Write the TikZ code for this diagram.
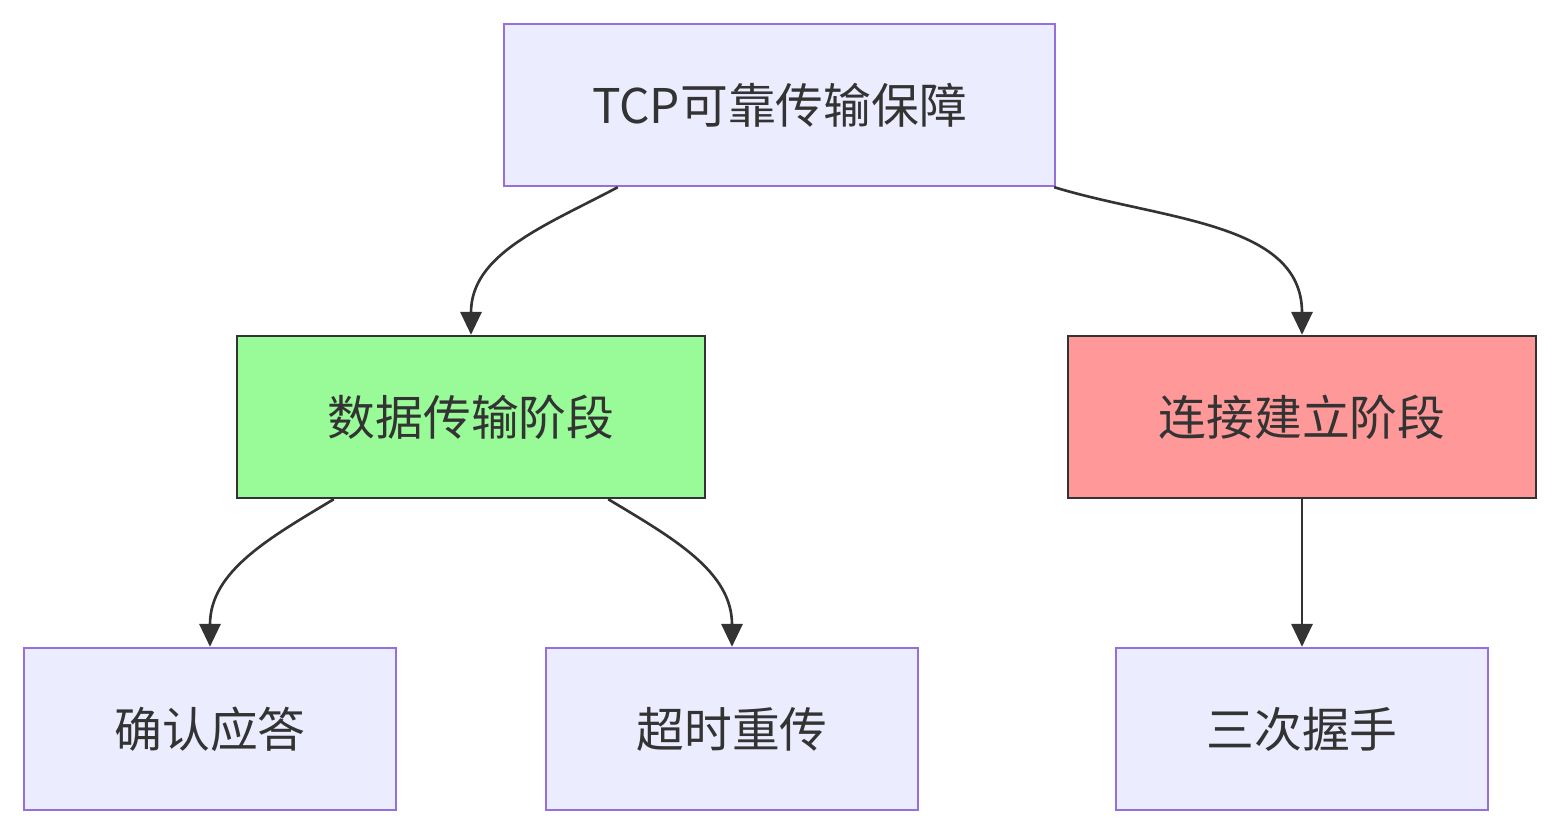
\documentclass[tikz,border=0pt]{standalone}
\usepackage{fontspec}
\newfontfamily\cjk{Noto Sans CJK SC}
\usetikzlibrary{arrows.meta}
\definecolor{boxfill}{HTML}{ECECFF}
\definecolor{boxline}{HTML}{9370DB}
\definecolor{greenfill}{HTML}{98FB98}
\definecolor{redfill}{HTML}{FF9999}
\definecolor{ink}{HTML}{333333}
\begin{document}
\begin{tikzpicture}
        [
            x=0.02cm, y=0.02cm,
            box/.style={rectangle, draw=boxline, fill=boxfill, line width=1.4pt, minimum height=3.24cm, text=ink, font=\cjk\fontsize{27.2}{30}\selectfont},
            phase/.style={box, draw=ink},
            link/.style={draw=ink, line width=1.5pt, -{Triangle[length=13pt, width=12pt]}}
        ]
        \useasboundingbox (0, 0) rectangle (1560, 834);
        \node[box, minimum width=11.02cm] (tcp) at (779.5, 729) {TCP可靠传输保障};
        \node[phase, fill=greenfill, minimum width=9.36cm] (data) at (471, 417) {数据传输阶段};
        \node[phase, fill=redfill, minimum width=9.36cm] (conn) at (1302, 417) {连接建立阶段};
        \node[box, minimum width=7.44cm] (ack) at (210, 105) {确认应答};
        \node[box, minimum width=7.44cm] (retx) at (732, 105) {超时重传};
        \node[box, minimum width=7.44cm] (shake) at (1302, 105) {三次握手};

        \draw[link] ([xshift=2.3cm]tcp.south west) to [out=208, in=90] (data.north);
        \draw[link] ([xshift=-0.04cm]tcp.south east) to [out=-17, in=90] (conn.north);
        \draw[link] ([xshift=1.96cm]data.south west) to [out=211, in=90] (ack.north);
        \draw[link] ([xshift=-1.96cm]data.south east) to [out=-31, in=90] (retx.north);
        \draw[link] (conn.south) -- (shake.north);
    \end{tikzpicture}
\end{document}
